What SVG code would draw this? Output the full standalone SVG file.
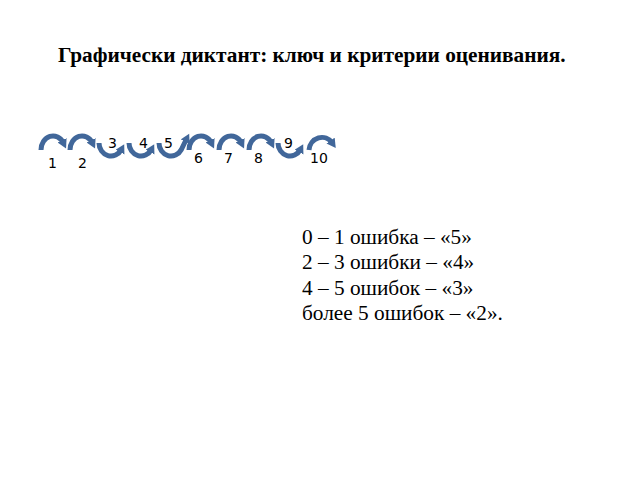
<svg xmlns="http://www.w3.org/2000/svg" width="640" height="480" viewBox="0 0 640 480">
<style>
.title{font-family:"Liberation Serif",serif;font-weight:bold;font-size:21.3px;fill:#000}
.crit{font-family:"Liberation Serif",serif;font-size:21.3px;fill:#000}
.num{font-family:"DejaVu Sans","Noto Sans",sans-serif;font-size:14px;fill:#000}
.arc{fill:none;stroke:#41679A;stroke-width:5;stroke-linecap:butt;marker-end:url(#ah)}
</style>
<defs>
<marker id="ah" markerUnits="userSpaceOnUse" markerWidth="12" markerHeight="12" refX="3" refY="5" orient="auto">
<path d="M0,0 L9,5 L0,10 Z" fill="#41679A"/>
</marker>
</defs>
<rect width="640" height="480" fill="#fff"/>
<text class="title" x="58" y="62">Графически диктант: ключ и критерии оценивания.</text>
<g id="connectors">
<path class="arc" d="M41,150 A12,14 0 0 1 63.4,143"/>
<path class="arc" d="M70,150 A12,14 0 0 1 92.4,143"/>
<path class="arc" d="M99,143 A12,13 0 0 0 121.4,149.5"/>
<path class="arc" d="M129,143 A12,13 0 0 0 151.4,149.5"/>
<path class="arc" d="M159,143 A12,13 0 0 0 181.4,149.5 Q184,144 186.5,139"/>
<path class="arc" d="M189,150 A12,14 0 0 1 211.4,143"/>
<path class="arc" d="M219,150 A12,14 0 0 1 241.4,143"/>
<path class="arc" d="M249,150 A12,14 0 0 1 271.4,143"/>
<path class="arc" d="M278,143 A12,13 0 0 0 300.4,149.5"/>
<path class="arc" d="M309,150 A13,14 0 0 1 332.3,143"/>
</g>
<g id="labels">
<text class="num" x="48" y="168">1</text>
<text class="num" x="78" y="168">2</text>
<text class="num" x="108" y="148">3</text>
<text class="num" x="139" y="148">4</text>
<text class="num" x="164" y="148">5</text>
<text class="num" x="194" y="163">6</text>
<text class="num" x="224" y="163">7</text>
<text class="num" x="254" y="163">8</text>
<text class="num" x="284" y="148">9</text>
<text class="num" x="310" y="163">10</text>
</g>
<g id="criteria">
<text class="crit" x="302" y="244">0 – 1 ошибка – «5»</text>
<text class="crit" x="302" y="269">2 – 3 ошибки – «4»</text>
<text class="crit" x="302" y="295">4 – 5 ошибок – «3»</text>
<text class="crit" x="302" y="320">более 5 ошибок – «2».</text>
</g>
</svg>
